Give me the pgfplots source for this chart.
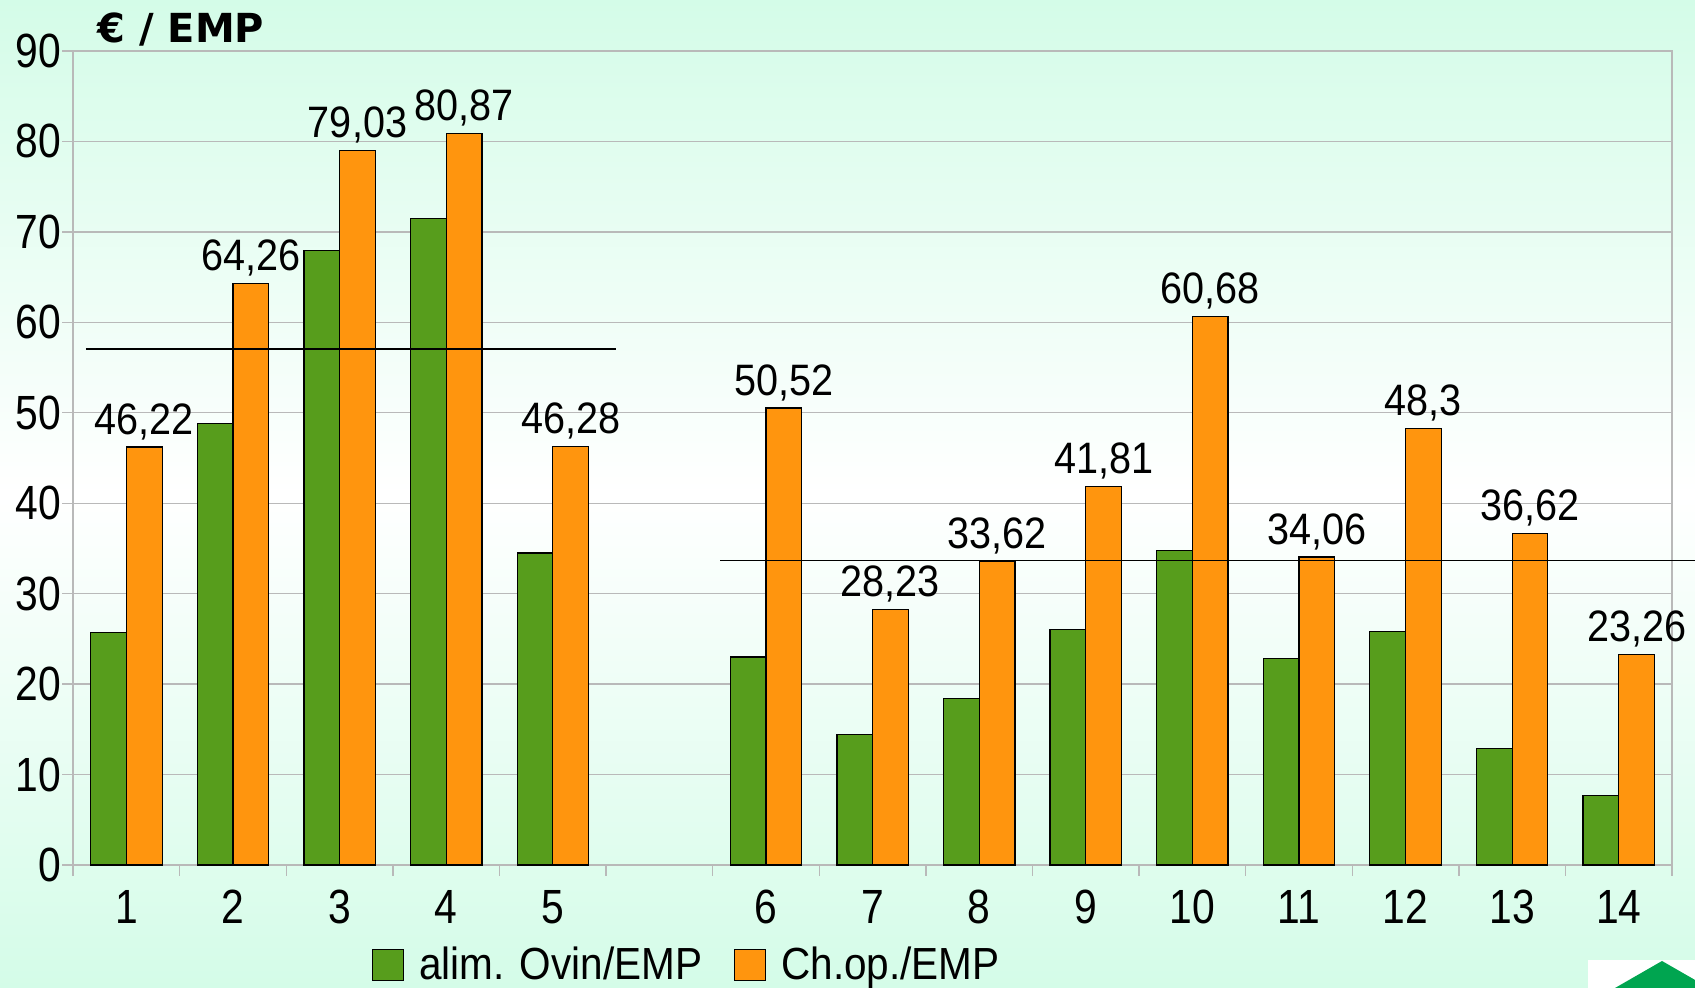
\documentclass[border=0pt]{standalone}
\usepackage{pgfplots}
\pgfplotsset{compat=1.18}
\usepackage{fontspec}
\setmainfont{Liberation Sans}[FakeStretch=0.9]
\newfontfamily\tickfont{Liberation Sans}[FakeStretch=0.85]
\newfontfamily\titlefont{DejaVu Sans}
\definecolor{mint}{RGB}{212,252,232}
\definecolor{barGreen}{HTML}{579D1C}
\definecolor{barOrange}{HTML}{FF950E}
\definecolor{gridgray}{RGB}{185,185,185}
\definecolor{logogreen}{HTML}{00A550}

\begin{document}
\begin{tikzpicture}
\useasboundingbox (0,0) rectangle (847.5pt,494pt);
\shade[top color=mint, bottom color=mint, middle color=white] (0,0) rectangle (847.5pt,494pt);
% logo corner
\fill[white] (794pt,0) rectangle (847.5pt,14pt);
\fill[logogreen] (807.5pt,0) -- (831pt,13.5pt) -- (854.5pt,0) -- cycle;
\node[anchor=base west, inner sep=0, font=\titlefont\bfseries\fontsize{20}{24}\selectfont] at (48.5pt,472.5pt) {€ / EMP};
\begin{axis}[
    at={(36.6pt,61.5pt)}, anchor=south west,
    scale only axis, width=799.4pt, height=407pt,
    xmin=0.5, xmax=15.5, ymin=0, ymax=90,
    ytick={0,10,...,90},
    xtick={1,...,15},
    xticklabels={1,2,3,4,5,{},6,7,8,9,10,11,12,13,14},
    minor xtick={0.5,1.5,...,15.5},
    tick align=outside, tick pos=left,
    major tick length=5.5pt, minor tick length=5.5pt,
    every major x tick/.append style={draw=none},
    tick style={gridgray, line width=0.7pt},
    ymajorgrids, grid style={gridgray, line width=0.7pt},
    axis line style={gridgray, line width=0.7pt},
    ticklabel style={font=\tickfont\fontsize{24}{28}\selectfont},
    yticklabel style={xshift=3pt},
    xticklabel style={yshift=-3.5pt},
    /pgf/number format/assume math mode=true,
    /pgf/number format/use comma,
    clip=false,
    ybar, bar width=0.335,
    legend columns=-1,
    legend style={at={(0.183,-0.123)}, anchor=west, draw=none, fill=none,
        font=\fontsize{22.5}{26}\selectfont,
        /tikz/every even column/.append style={column sep=14pt}},
    legend image code/.code={\draw[#1] (0pt,-7.7pt) rectangle (15.5pt,7.7pt); \path (21pt,0);},
]
\addplot[fill=barGreen, draw=black, line width=0.6pt, bar shift=-0.1675]
  coordinates {(1,25.7) (2,48.8) (3,67.9) (4,71.5) (5,34.5)
               (7,23.0) (8,14.4) (9,18.4) (10,26.0) (11,34.8) (12,22.8) (13,25.8) (14,12.9) (15,7.7)};
\addlegendentry{alim. Ovin/EMP}
\addplot[fill=barOrange, draw=black, line width=0.6pt, bar shift=0.1675,
    nodes near coords, nodes near coords style={font=\fontsize{22}{26}\selectfont, black}]
  coordinates {(1,46.22) (2,64.26) (3,79.03) (4,80.87) (5,46.28)
               (7,50.52) (8,28.23) (9,33.62) (10,41.81) (11,60.68) (12,34.06) (13,48.3) (14,36.62) (15,23.26)};
\addlegendentry{Ch.op./EMP}
% reference lines
\addplot[sharp plot, black, line width=0.7pt, forget plot] coordinates {(0.62,57.05) (5.59,57.05)};
\addplot[sharp plot, black, line width=0.7pt, forget plot] coordinates {(6.57,33.68) (15.73,33.68)};
\end{axis}
\end{tikzpicture}
\end{document}
